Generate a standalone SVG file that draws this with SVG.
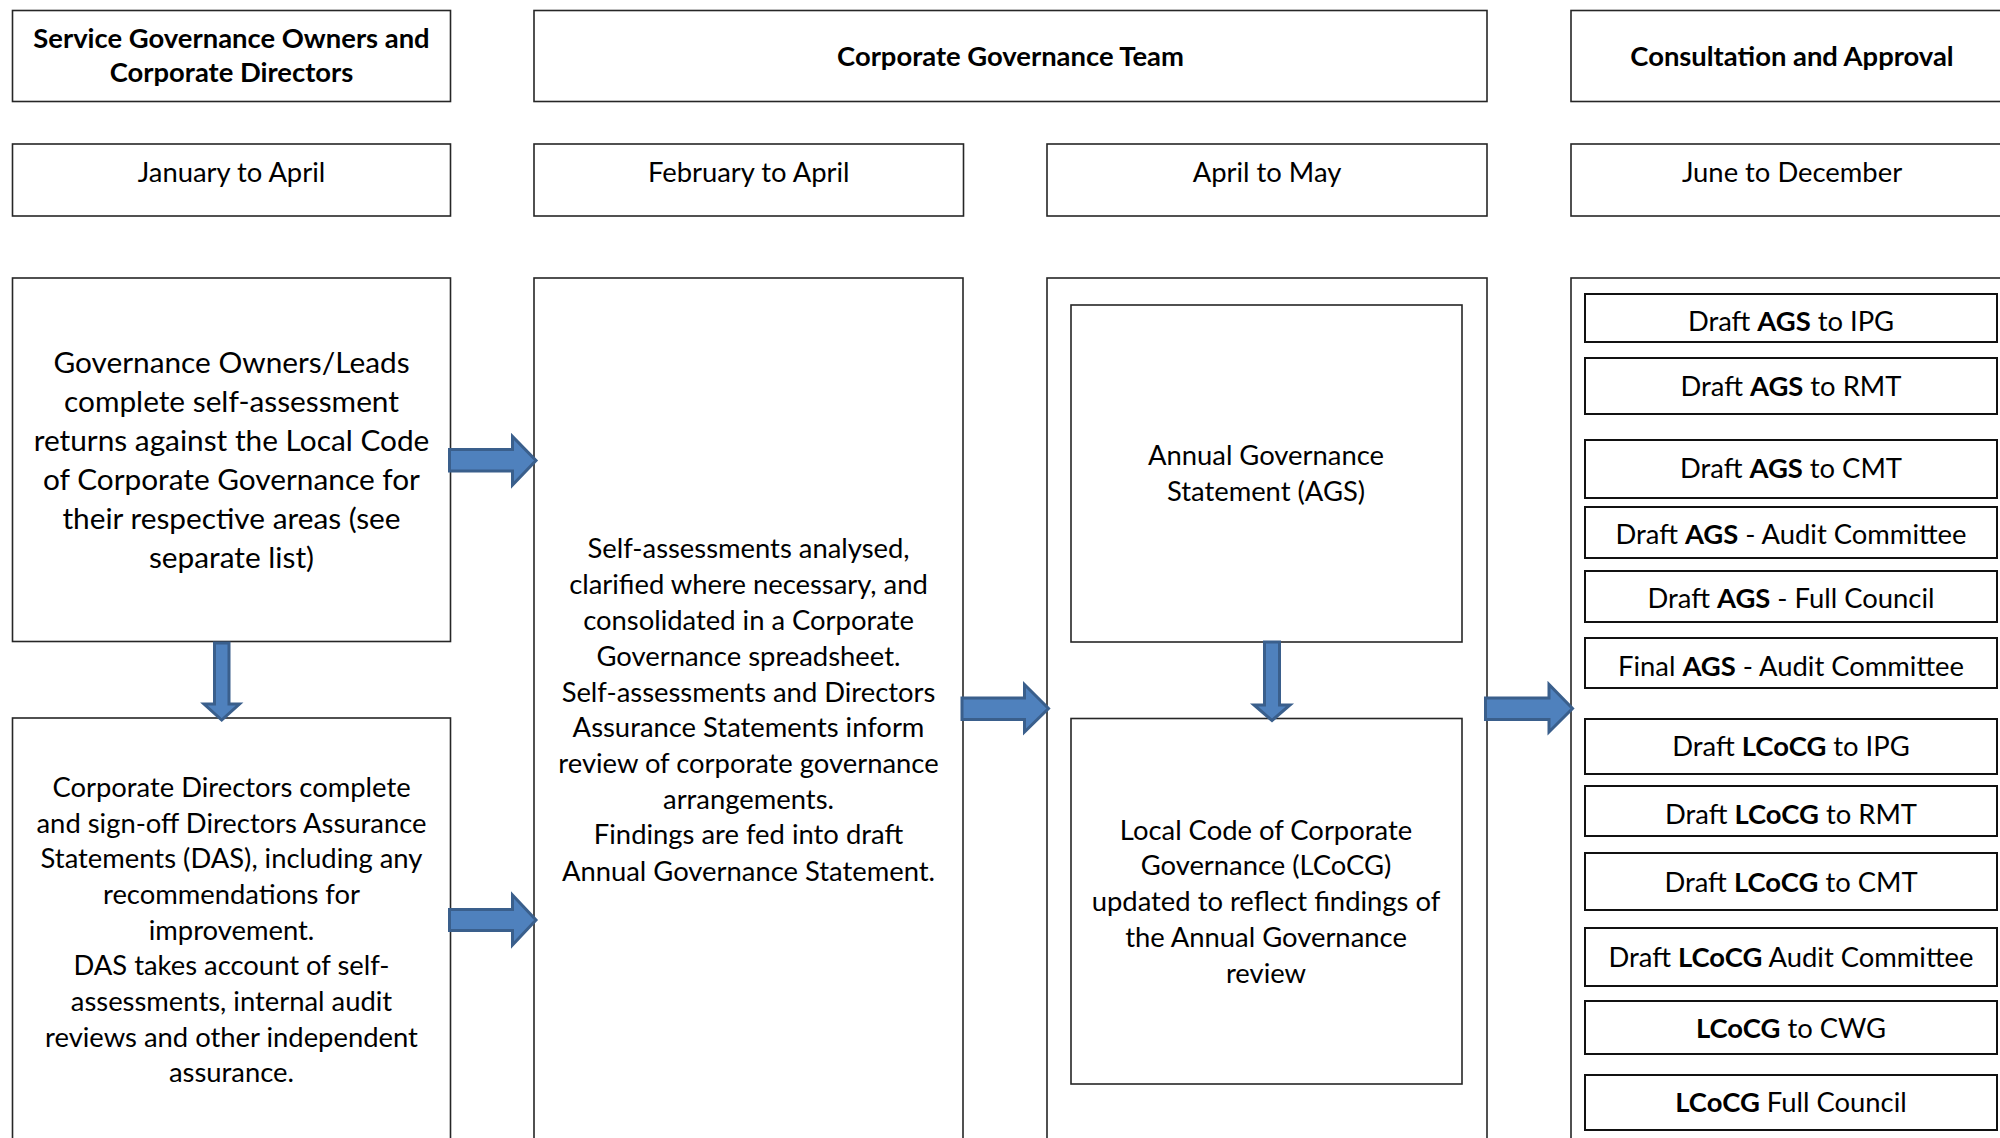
<svg xmlns="http://www.w3.org/2000/svg" width="2000" height="1138" viewBox="0 0 2000 1138">
<style>
.box{fill:#fff;stroke:#262626;stroke-width:1.6}
.item{fill:#fff;stroke:#111;stroke-width:2}
text{font-family:Lato,"Liberation Sans",sans-serif;fill:#000;text-anchor:middle;font-size:27.4px}
.b{font-weight:bold}
.big{font-size:29.8px}
.arr{fill:#4F81BD;stroke:#3A5F8C;stroke-width:3;stroke-linejoin:miter}
</style>
<rect width="2000" height="1138" fill="#fff"/>

<g id="hdr-service">
<rect class="box" x="12.5" y="10.5" width="438" height="91"/>
<text class="b" x="231.5" y="48">Service Governance Owners and</text>
<text class="b" x="231.5" y="82">Corporate Directors</text>
</g>
<g id="hdr-cgt">
<rect class="box" x="534" y="10.5" width="953" height="91"/>
<text class="b" x="1010.5" y="66">Corporate Governance Team</text>
</g>
<g id="hdr-consult">
<rect class="box" x="1571" y="10.5" width="460" height="91"/>
<text class="b" x="1792" y="66">Consultation and Approval</text>
</g>

<g id="date-jan">
<rect class="box" x="12.5" y="144" width="438" height="72"/>
<text x="231.5" y="182">January to April</text>
</g>
<g id="date-feb">
<rect class="box" x="534" y="144" width="429.5" height="72"/>
<text x="748.7" y="182">February to April</text>
</g>
<g id="date-apr">
<rect class="box" x="1047" y="144" width="440" height="72"/>
<text x="1267" y="182">April to May</text>
</g>
<g id="date-jun">
<rect class="box" x="1571" y="144" width="460" height="72"/>
<text x="1792" y="182">June to December</text>
</g>

<g id="selfassess">
<rect class="box" x="12.5" y="278" width="438" height="363.5"/>
<text class="big" x="231.5" y="373">Governance Owners/Leads</text>
<text class="big" x="231.5" y="412">complete self-assessment</text>
<text class="big" x="231.5" y="451">returns against the Local Code</text>
<text class="big" x="231.5" y="490">of Corporate Governance for</text>
<text class="big" x="231.5" y="529">their respective areas (see</text>
<text class="big" x="231.5" y="567.5">separate list)</text>
</g>

<g id="das">
<rect class="box" x="12.5" y="718" width="438" height="440"/>
<text x="231.5" y="797">Corporate Directors complete</text>
<text x="231.5" y="832.5">and sign-off Directors Assurance</text>
<text x="231.5" y="868">Statements (DAS), including any</text>
<text x="231.5" y="903.5">recommendations for</text>
<text x="231.5" y="939.5">improvement.</text>
<text x="231.5" y="975">DAS takes account of self-</text>
<text x="231.5" y="1011">assessments, internal audit</text>
<text x="231.5" y="1046.5">reviews and other independent</text>
<text x="231.5" y="1082">assurance.</text>
</g>

<g id="analyse">
<rect class="box" x="534" y="278" width="429" height="880"/>
<text x="748.5" y="558">Self-assessments analysed,</text>
<text x="748.5" y="594">clarified where necessary, and</text>
<text x="748.5" y="630">consolidated in a Corporate</text>
<text x="748.5" y="665.5">Governance spreadsheet.</text>
<text x="748.5" y="701.5">Self-assessments and Directors</text>
<text x="748.5" y="737">Assurance Statements inform</text>
<text x="748.5" y="773">review of corporate governance</text>
<text x="748.5" y="808.5">arrangements.</text>
<text x="748.5" y="844">Findings are fed into draft</text>
<text x="748.5" y="880.5">Annual Governance Statement.</text>
</g>

<g id="cgt-outputs">
<rect class="box" x="1047" y="278" width="440" height="880"/>
</g>
<g id="ags">
<rect class="box" x="1071" y="305" width="391" height="337"/>
<text x="1266" y="465">Annual Governance</text>
<text x="1266" y="501">Statement (AGS)</text>
</g>
<g id="lcocg">
<rect class="box" x="1071" y="718.5" width="391" height="365.5"/>
<text x="1266" y="839.5">Local Code of Corporate</text>
<text x="1266" y="875">Governance (LCoCG)</text>
<text x="1266" y="911">updated to reflect findings of</text>
<text x="1266" y="947">the Annual Governance</text>
<text x="1266" y="983">review</text>
</g>

<g id="approval">
<rect class="box" x="1571" y="278" width="460" height="880"/>
</g>
<g id="item1"><rect class="item" x="1585" y="294" width="412" height="48"/><text x="1791" y="331">Draft <tspan class="b">AGS</tspan> to IPG</text></g>
<g id="item2"><rect class="item" x="1585" y="358" width="412" height="56"/><text x="1791" y="396">Draft <tspan class="b">AGS</tspan> to RMT</text></g>
<g id="item3"><rect class="item" x="1585" y="440" width="412" height="58"/><text x="1791" y="478">Draft <tspan class="b">AGS</tspan> to CMT</text></g>
<g id="item4"><rect class="item" x="1585" y="507" width="412" height="51"/><text x="1791" y="544">Draft <tspan class="b">AGS</tspan> - Audit Committee</text></g>
<g id="item5"><rect class="item" x="1585" y="571" width="412" height="51"/><text x="1791" y="607.5">Draft <tspan class="b">AGS</tspan> - Full Council</text></g>
<g id="item6"><rect class="item" x="1585" y="638" width="412" height="50"/><text x="1791" y="676">Final <tspan class="b">AGS</tspan> - Audit Committee</text></g>
<g id="item7"><rect class="item" x="1585" y="719" width="412" height="55"/><text x="1791" y="756">Draft <tspan class="b">LCoCG</tspan> to IPG</text></g>
<g id="item8"><rect class="item" x="1585" y="786" width="412" height="50"/><text x="1791" y="824">Draft <tspan class="b">LCoCG</tspan> to RMT</text></g>
<g id="item9"><rect class="item" x="1585" y="853" width="412" height="57"/><text x="1791" y="891.5">Draft <tspan class="b">LCoCG</tspan> to CMT</text></g>
<g id="item10"><rect class="item" x="1585" y="928" width="412" height="58"/><text x="1791" y="967">Draft <tspan class="b">LCoCG</tspan> Audit Committee</text></g>
<g id="item11"><rect class="item" x="1585" y="1001" width="412" height="53"/><text x="1791" y="1038"><tspan class="b">LCoCG</tspan> to CWG</text></g>
<g id="item12"><rect class="item" x="1585" y="1075" width="412" height="55"/><text x="1791" y="1112"><tspan class="b">LCoCG</tspan> Full Council</text></g>

<g id="connectors">
<path class="arr" d="M214.5,643 L229,643 L229,704 L239.5,704 L221.7,720 L204,704 L214.5,704 Z"/>
<path class="arr" d="M1264.5,642 L1279.5,642 L1279.5,705 L1290,705 L1272,720.5 L1254,705 L1264.5,705 Z"/>
<path class="arr" d="M449.5,449.5 L512.5,449.5 L512.5,436.5 L536,460.5 L512.5,485 L512.5,471 L449.5,471 Z"/>
<path class="arr" d="M449.5,909.5 L512.5,909.5 L512.5,895 L536,920 L512.5,945 L512.5,930.5 L449.5,930.5 Z"/>
<path class="arr" d="M962,698 L1024.5,698 L1024.5,684.5 L1048.5,708.5 L1024.5,732 L1024.5,719.5 L962,719.5 Z"/>
<path class="arr" d="M1485.5,698 L1549,698 L1549,684.5 L1572.5,708.5 L1549,732 L1549,719.5 L1485.5,719.5 Z"/>
</g>
</svg>
